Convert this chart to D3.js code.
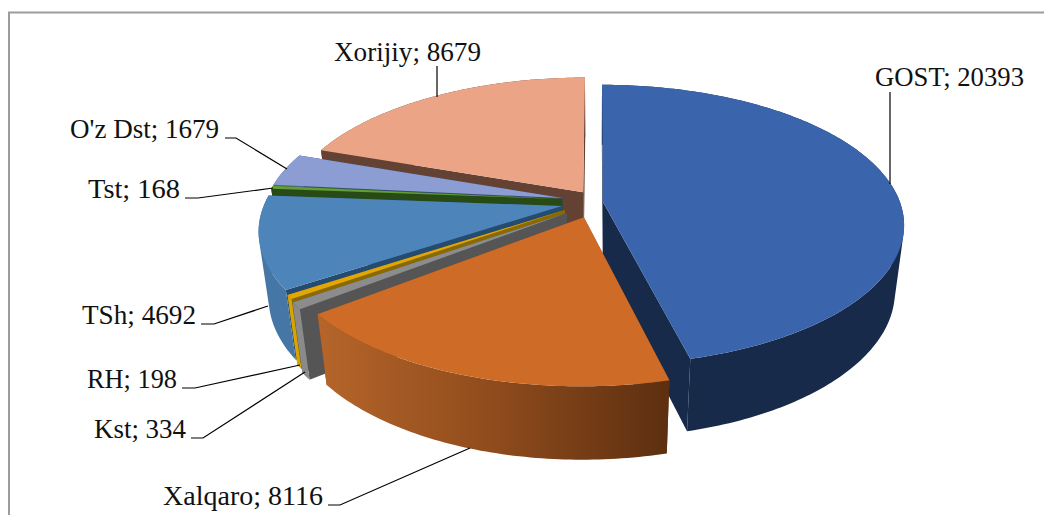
<!DOCTYPE html>
<html>
<head>
<meta charset="utf-8">
<script src="https://d3js.org/d3.v7.min.js"></script>
<style>
  html, body { margin: 0; padding: 0; background: #fff; }
  svg { display: block; }
  text { font-family: "Liberation Serif", serif; font-size: 27px; fill: #111; }
</style>
</head>
<body>
<svg></svg>
<script>
// chart data, clockwise from 12 o'clock
var categories = ["GOST", "Xalqaro", "Kst", "RH", "TSh", "Tst", "O'z Dst", "Xorijiy"];
var values = [20393, 8116, 334, 198, 4692, 168, 1679, 8679];

// colours per slice
var topColors = ["#3a64ab", "#ce6c27", "#8c8c8c", "#e2a704", "#4d85ba", "#5f9f36", "#8b9dd3", "#eba586"];
var sideColors = ["#172a49", "url(#orangeWall)", "#8a8a8a", "#d9a300", "#4576a6", "#284a15", "#55638f", "#634234"];
var cutColors = ["#172a49", "#7e4119", "#555555", "#8a6a00", "#254c70", "#284a15", "#3b4a6f", "#634234"];

// where each exploded slice has its tip on screen
var tipX = [603, 584, 567, 565, 562, 562, 562, 583];
var tipY = [202, 217, 213, 210, 206, 199, 198, 192];

// label left edge, right edge + baseline, leader line points
var labelX = [875, 163, 94, 87, 82, 88, 70, 334];
var labelEnd = [1024, 323, 186, 177, 196, 180, 219, 481];
var labelY = [86, 505, 438, 388, 324, 198, 138, 61];
var leaders = [
  [[890, 92], [890, 184]],
  [[328, 505], [340, 505], [470, 448]],
  [[191, 438], [203, 438], [305, 372]],
  [[182, 388], [195, 388], [300, 365]],
  [[201, 324], [214, 324], [268, 306]],
  [[185, 198], [198, 198], [273, 188]],
  [[225, 138], [236, 138], [287, 169]],
  [[437, 66], [437, 97]]
];

var svgWidth = 1044, svgHeight = 515;

var svg = d3.select("svg")
    .attr("width", svgWidth)
    .attr("height", svgHeight);

// back to front
var drawOrder = [7, 6, 5, 4, 3, 2, 0, 1];

// perspective numbers for the tilted disc
var cx = 596, cy = 205, radius = 298, tilt = 137.2, persp = 0.163, depthPersp = 0.03, depth = 68;

function project(x, w, z) {
    var s = 1 / (1 - persp * w + depthPersp * z);
    return [cx + radius * x * s, cy + (tilt * w + depth * z) * s];
}

var slices = d3.pie().sort(null)(values);

var line = d3.line();

function arcPoints(d, i, z) {
    var ox = (tipX[i] - cx) / radius, ow = (tipY[i] - cy) / tilt;
    var n = Math.max(2, Math.ceil((d.endAngle - d.startAngle) * 60));
    return d3.range(n + 1).map(function(k) {
        var a = d.startAngle + (d.endAngle - d.startAngle) * k / n;
        return project(ox + Math.sin(a), ow - Math.cos(a), z);
    });
}

function tip(i, z) {
    return project((tipX[i] - cx) / radius, (tipY[i] - cy) / tilt, z);
}

function cutWall(d, i, angle) {
    var ox = (tipX[i] - cx) / radius, ow = (tipY[i] - cy) / tilt;
    var x = ox + Math.sin(angle), w = ow - Math.cos(angle);
    return [tip(i, 0), project(x, w, 0), project(x, w, 1), tip(i, 1)];
}

// outer wall as small quads, all wound the same way so they union cleanly
function outerWall(d, i) {
    var upper = arcPoints(d, i, 0), lower = arcPoints(d, i, 1);
    return d3.range(upper.length - 1).map(function(k) {
        var quad = [upper[k], upper[k + 1], lower[k + 1], lower[k]];
        if (d3.polygonArea(quad) < 0) quad.reverse();
        return line(quad) + "Z";
    }).join("");
}

// gradient on the orange outer wall
var grad = svg.append("defs").append("linearGradient")
    .attr("id", "orangeWall")
    .attr("gradientUnits", "userSpaceOnUse")
    .attr("x1", 320).attr("y1", 0)
    .attr("x2", 670).attr("y2", 0);
grad.append("stop").attr("offset", "0%").attr("stop-color", "#b5652a");
grad.append("stop").attr("offset", "50%").attr("stop-color", "#8f4b1c");
grad.append("stop").attr("offset", "100%").attr("stop-color", "#5c2f10");

// chart frame, only top and left show in the crop
svg.append("path")
    .attr("d", "M9,515V12.5H1044")
    .attr("fill", "none")
    .attr("stroke", "#9c9c9c")
    .attr("stroke-width", 2);

var sliceGroups = svg.selectAll("g.slice")
    .data(drawOrder)
    .enter().append("g")
    .attr("class", "slice");

sliceGroups.each(function(i) {
    var d = slices[i];
    var g = d3.select(this);

    // end cut, start cut, outer wall, then the top
    g.append("path")
        .attr("d", line(cutWall(d, i, d.endAngle)) + "Z")
        .attr("fill", cutColors[i]);
    g.append("path")
        .attr("d", line(cutWall(d, i, d.startAngle)) + "Z")
        .attr("fill", cutColors[i]);
    g.append("path")
        .attr("d", outerWall(d, i))
        .attr("fill", sideColors[i]);
    g.append("path")
        .attr("d", line([tip(i, 0)].concat(arcPoints(d, i, 0))) + "Z")
        .attr("fill", topColors[i]);
});

// leader lines
svg.selectAll("path.leader")
    .data(leaders)
    .enter().append("path")
    .attr("class", "leader")
    .attr("d", function(d) { return line(d); })
    .attr("fill", "none")
    .attr("stroke", "#000")
    .attr("stroke-width", 1.2);

// labels
svg.selectAll("text.label")
    .data(categories)
    .enter().append("text")
    .attr("class", "label")
    .attr("x", function(d, i) { return labelX[i]; })
    .attr("y", function(d, i) { return labelY[i]; })
    .attr("textLength", function(d, i) { return labelEnd[i] - labelX[i]; })
    .attr("lengthAdjust", "spacingAndGlyphs")
    .text(function(d, i) { return d + "; " + values[i]; });
</script>
</body>
</html>
